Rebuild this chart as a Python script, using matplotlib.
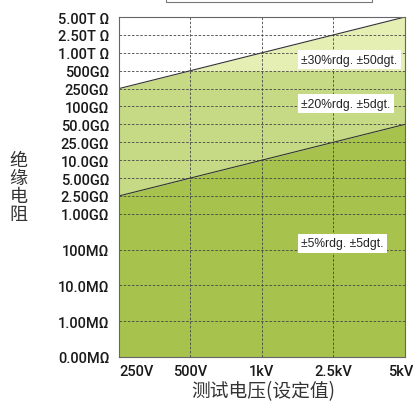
import numpy as np
import matplotlib.pyplot as plt
from matplotlib.patches import Rectangle
from matplotlib.transforms import ScaledTranslation

# ==========================[Data]=============================
voltages = ['250V', '500V', '1kV', '2.5kV', '5kV']
r_labels = ['0.00MΩ', '1.00MΩ', '10.0MΩ', '100MΩ', '1.00GΩ', '2.50GΩ',
            '5.00GΩ', '10.0GΩ', '25.0GΩ', '50.0GΩ', '100GΩ', '250GΩ',
            '500GΩ', '1.00T Ω', '2.50T Ω', '5.00T Ω']
r_pos = [0, 2, 4, 6, 8, 9, 10, 11, 12, 13, 14, 15, 16, 17, 18, 19]

# upper limits of each accuracy band, per voltage
lim_5pct = ['2.50GΩ', '5.00GΩ', '10.0GΩ', '25.0GΩ', '50.0GΩ']
lim_20pct = '500GΩ'
lim_30pct = ['250GΩ', '500GΩ', '1.00T Ω', '2.50T Ω', '5.00T Ω']

band_texts = ['±30%rdg. ±50dgt.', '±20%rdg. ±5dgt.', '±5%rdg. ±5dgt.']
band_text_y = [16.6, 14.15, 6.35]

colors = ['#a7c34d', '#c6da85', '#e5eeb3']

# ==========================[Plot]=============================
plt.rcParams['font.family'] = ['Roboto', 'Liberation Sans', 'DejaVu Sans']
pos = dict(zip(r_labels, r_pos))

x = np.arange(len(voltages))
y5 = np.array([pos[v] for v in lim_5pct])
y30 = np.array([pos[v] for v in lim_30pct])
y20 = np.minimum(y30, pos[lim_20pct])

fig = plt.figure(figsize=(4.14, 4.02), dpi=100)
ax = fig.add_axes([0.2874, 0.1095, 0.6906, 0.8457])

ax.fill_between(x, 0, y5, color=colors[0], lw=0)
ax.fill_between(x, y5, y20, color=colors[1], lw=0)
ax.fill_between(x, y20, y30, color=colors[2], lw=0)
ax.plot(x, y5, color='#333333', lw=0.8)
ax.plot(x, y30, color='#333333', lw=0.8)

ax.set_xlim(0, len(voltages) - 1)
ax.set_ylim(0, r_pos[-1])
ax.set_xticks(x)
ax.set_xticklabels(voltages)
ax.set_yticks(r_pos)
ax.set_yticklabels(r_labels)
ax.tick_params(length=0, labelsize=10.5, colors='#1a1a1a')
ax.tick_params(axis='y', pad=7)
ax.tick_params(axis='x', pad=5)
for lab in ax.get_xticklabels() + ax.get_yticklabels():
    lab.set_fontweight('medium')

# end labels sit inside the axis ends, as in the original
xl = ax.get_xticklabels()
xl[0].set_ha('left')
xl[-1].set_transform(xl[-1].get_transform() +
                     ScaledTranslation(-4 / 100, 0, fig.dpi_scale_trans))

ax.grid(True, color='#444444', lw=0.6, ls=(0, (3, 2)))
for s in ax.spines.values():
    s.set_color('#666666')
    s.set_linewidth(0.8)

for t, yy in zip(band_texts, band_text_y):
    ax.text(2.55, yy, t, fontsize=8.7, family=['Liberation Sans'], color='#222222',
            va='center', ha='left',
            bbox=dict(facecolor='white', edgecolor='none', pad=2.5))

cjk = ['Noto Sans CJK SC', 'DejaVu Sans']
fig.text(0.045, 0.532, '绝\n缘\n电\n阻', fontsize=13, family=cjk, color='#333333',
         ha='center', va='center', linespacing=1.0)
fig.text(0.636, 0.027, '测试电压(设定值)', fontsize=13.5, family=cjk, color='#333333',
         ha='center', va='center')

fig.patches.append(Rectangle((0.401, 0.9925), 0.4976, 0.1, transform=fig.transFigure,
                             facecolor='white', edgecolor='#777777', lw=0.8))

plt.savefig('out.png', dpi=100)
